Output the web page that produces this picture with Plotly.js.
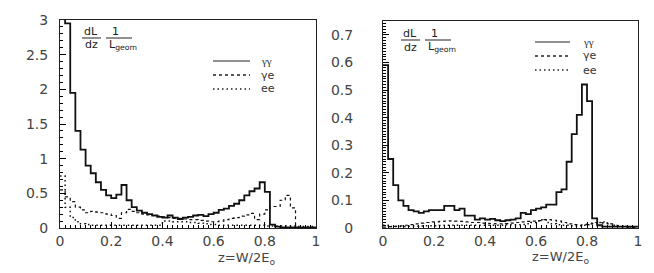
<!DOCTYPE html>
<html>
<head>
<meta charset="utf-8">
<script src="https://cdn.plot.ly/plotly-3.0.1.min.js"></script>
<style>
  html, body { margin: 0; padding: 0; background: #fff; }
  #plot { width: 654px; height: 273px; }
</style>
</head>
<body>
<div id="plot"></div>
<script>
// bin edges, 50 bins of width 0.02
const edges = Array.from({ length: 51 }, (_, i) => +(i * 0.02).toFixed(2));

// left panel
const leftGG = [3.05, 2.95, 1.95, 1.40, 1.13, 0.90, 0.79, 0.66, 0.55, 0.47,
  0.43, 0.48, 0.62, 0.40, 0.30, 0.25, 0.22, 0.20, 0.18, 0.16,
  0.15, 0.18, 0.15, 0.13, 0.15, 0.16, 0.18, 0.19, 0.17, 0.20,
  0.22, 0.26, 0.28, 0.32, 0.35, 0.40, 0.47, 0.53, 0.57, 0.66,
  0.52, 0.05, 0.02, 0.01, 0.01, 0.01, 0.01, 0.01, 0.01, 0.01];
const leftGE = [0.55, 0.45, 0.38, 0.30, 0.26, 0.22, 0.24, 0.23, 0.22, 0.20,
  0.18, 0.14, 0.22, 0.27, 0.24, 0.22, 0.20, 0.19, 0.18, 0.17,
  0.16, 0.15, 0.14, 0.14, 0.13, 0.12, 0.12, 0.11, 0.10, 0.09,
  0.09, 0.10, 0.12, 0.14, 0.15, 0.17, 0.19, 0.21, 0.12, 0.20,
  0.26, 0.31, 0.31, 0.40, 0.47, 0.29, 0.0, 0.0, 0.0, 0.0];
const leftEE = [0.75, 0.30, 0.15, 0.09, 0.06, 0.05, 0.04, 0.04, 0.04, 0.04,
  0.04, 0.04, 0.04, 0.04, 0.04, 0.04, 0.04, 0.04, 0.04, 0.04,
  0.10, 0.10, 0.09, 0.09, 0.09, 0.08, 0.08, 0.07, 0.06, 0.05,
  0.05, 0.04, 0.04, 0.04, 0.04, 0.04, 0.04, 0.04, 0.04, 0.04,
  0.03, 0.03, 0.03, 0.03, 0.03, 0.03, 0.02, 0.02, 0.02, 0.02];

// right panel
const rightGG = [0.59, 0.25, 0.155, 0.10, 0.08, 0.065, 0.06, 0.055, 0.06, 0.065,
  0.065, 0.065, 0.08, 0.08, 0.065, 0.07, 0.045, 0.045, 0.03, 0.035,
  0.03, 0.033, 0.028, 0.025, 0.028, 0.03, 0.035, 0.055, 0.05, 0.065,
  0.07, 0.075, 0.085, 0.085, 0.13, 0.14, 0.24, 0.34, 0.41, 0.52,
  0.46, 0.035, 0.01, 0.005, 0.005, 0.005, 0.005, 0.005, 0.005, 0.005];
const rightGE = [0.003, 0.005, 0.006, 0.008, 0.01, 0.012, 0.015, 0.018, 0.02, 0.022,
  0.022, 0.024, 0.025, 0.026, 0.025, 0.024, 0.022, 0.02, 0.02, 0.018,
  0.017, 0.016, 0.015, 0.015, 0.016, 0.018, 0.02, 0.022, 0.024, 0.025,
  0.027, 0.03, 0.03, 0.028, 0.025, 0.02, 0.015, 0.012, 0.01, 0.012,
  0.015, 0.02, 0.02, 0.018, 0.015, 0.01, 0.005, 0.003, 0.002, 0.001];
const rightEE = [0.01, 0.005, 0.005, 0.005, 0.005, 0.006, 0.006, 0.007, 0.008, 0.008,
  0.008, 0.009, 0.01, 0.01, 0.01, 0.01, 0.01, 0.01, 0.01, 0.01,
  0.01, 0.01, 0.01, 0.01, 0.012, 0.012, 0.012, 0.013, 0.015, 0.02,
  0.025, 0.03, 0.02, 0.015, 0.012, 0.01, 0.01, 0.008, 0.008, 0.01,
  0.012, 0.015, 0.02, 0.022, 0.015, 0.01, 0.008, 0.005, 0.004, 0.003];

const xTicks = [0, 0.2, 0.4, 0.6, 0.8, 1];
const xTickText = ["0", "0.2", "0.4", "0.6", "0.8", "1"];
const leftYTicks = [0, 0.5, 1, 1.5, 2, 2.5, 3];
const leftYText = ["0", "0.5", "1", "1.5", "2", "2.5", "3"];
const rightYTicks = [0, 0.1, 0.2, 0.3, 0.4, 0.5, 0.6, 0.7];
const rightYText = ["0", "0.1", "0.2", "0.3", "0.4", "0.5", "0.6", "0.7"];
const seriesNames = ["γγ", "γe", "ee"];

const W = 654, H = 273;
const px = (x) => x / W;
const py = (y) => 1 - y / H;

const DASHED = "3px,3px";
const DOTTED = "1.5px,3px";

function hist(vals, xa, ya, dash, width) {
  return {
    x: edges,
    y: vals.concat([vals[vals.length - 1]]),
    xaxis: xa, yaxis: ya,
    type: "scatter", mode: "lines",
    line: { shape: "hv", color: "#111", width: width, dash: dash },
    showlegend: false, hoverinfo: "skip",
  };
}

const data = [
  hist(leftEE, "x", "y", DOTTED, 1.5),
  hist(leftGE, "x", "y", DASHED, 1.2),
  hist(leftGG, "x", "y", "solid", 1.8),
  hist(rightEE, "x2", "y2", DOTTED, 1.5),
  hist(rightGE, "x2", "y2", DASHED, 1.2),
  hist(rightGG, "x2", "y2", "solid", 1.8),
];

const SANS = "DejaVu Sans, Liberation Sans, Arial, sans-serif";
const tickFont = { family: SANS, size: 14, color: "#444" };

function xAxis(domain, anchor) {
  return {
    domain: domain, anchor: anchor, range: [0, 1],
    tickvals: xTicks, ticktext: xTickText, tickfont: tickFont,
    ticks: "inside", ticklen: 6, tickcolor: "#000",
    minor: { dtick: 0.02, ticks: "inside", ticklen: 3, tickcolor: "#000" },
    showline: true, mirror: true, linecolor: "#222", linewidth: 1,
    showgrid: false, zeroline: false,
  };
}
function yAxis(domain, anchor, range, vals, text, minorStep, standoff) {
  return {
    domain: domain, anchor: anchor, range: range,
    tickvals: vals, ticktext: text, tickfont: tickFont,
    ticks: "inside", ticklen: 6, tickcolor: "#000",
    minor: { dtick: minorStep, ticks: "inside", ticklen: 3, tickcolor: "#000" },
    ticklabelstandoff: standoff,
    showline: true, mirror: true, linecolor: "#222", linewidth: 1,
    showgrid: false, zeroline: false,
  };
}

const annFont = { family: SANS, size: 11, color: "#222" };
const annotations = [];
const shapes = [];

function fractionLabel(x0, yTop) {
  annotations.push({ xref: "paper", yref: "paper", x: px(x0 + 9), y: py(yTop), text: "dL",
    showarrow: false, font: annFont, xanchor: "center", yanchor: "middle" });
  annotations.push({ xref: "paper", yref: "paper", x: px(x0 + 9), y: py(yTop + 14), text: "dz",
    showarrow: false, font: annFont, xanchor: "center", yanchor: "middle" });
  annotations.push({ xref: "paper", yref: "paper", x: px(x0 + 33), y: py(yTop), text: "1",
    showarrow: false, font: annFont, xanchor: "center", yanchor: "middle" });
  annotations.push({ xref: "paper", yref: "paper", x: px(x0 + 25), y: py(yTop + 14),
    text: "L<sub>geom</sub>", showarrow: false, font: annFont, xanchor: "left", yanchor: "middle" });
  shapes.push({ type: "line", xref: "paper", yref: "paper", x0: px(x0), x1: px(x0 + 19),
    y0: py(yTop + 7), y1: py(yTop + 7), line: { color: "#222", width: 1 } });
  shapes.push({ type: "line", xref: "paper", yref: "paper", x0: px(x0 + 24), x1: px(x0 + 50),
    y0: py(yTop + 7), y1: py(yTop + 7), line: { color: "#222", width: 1 } });
}

function legendBlock(lx0, lx1, tx, rows) {
  const dashes = ["solid", DASHED, DOTTED];
  rows.forEach((yy, i) => {
    shapes.push({ type: "line", xref: "paper", yref: "paper", x0: px(lx0), x1: px(lx1),
      y0: py(yy), y1: py(yy), line: { color: "#222", width: i === 0 ? 1 : 1.3, dash: dashes[i] } });
    annotations.push({ xref: "paper", yref: "paper", x: px(tx), y: py(yy), text: seriesNames[i],
      showarrow: false, xanchor: "left", yanchor: "middle",
      font: { family: i === 0 ? "Liberation Serif, serif" : SANS, size: 11, color: "#333" } });
  });
}

fractionLabel(82, 31);
fractionLabel(401, 33);
legendBlock(213, 250, 259, [61, 75, 89]);
legendBlock(535, 570, 581, [42, 56, 70]);

const titleFont = { family: SANS, size: 13, color: "#444" };
annotations.push({ xref: "paper", yref: "paper", x: px(247), y: py(258), text: "z=W/2E<sub>o</sub>",
  showarrow: false, font: titleFont, xanchor: "center", yanchor: "middle" });
annotations.push({ xref: "paper", yref: "paper", x: px(560), y: py(257), text: "z=W/2E<sub>o</sub>",
  showarrow: false, font: titleFont, xanchor: "center", yanchor: "middle" });

const layout = {
  width: W, height: H,
  margin: { l: 0, r: 0, t: 0, b: 0 },
  paper_bgcolor: "#fff", plot_bgcolor: "#fff",
  showlegend: false,
  xaxis: xAxis([px(60), px(316)], "y"),
  yaxis: yAxis([py(228), py(20)], "x", [0, 3], leftYTicks, leftYText, 0.1, 8),
  xaxis2: xAxis([px(383), px(638)], "y2"),
  yaxis2: yAxis([py(228), py(21)], "x2", [0, 0.75], rightYTicks, rightYText, 0.01, 26),
  annotations: annotations,
  shapes: shapes,
};

Plotly.newPlot("plot", data, layout, { staticPlot: true });
</script>
</body>
</html>
